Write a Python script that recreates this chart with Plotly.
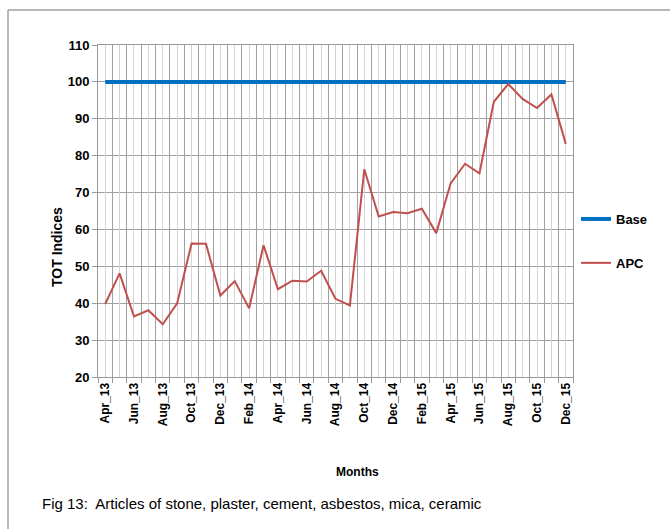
import plotly.graph_objects as go

months = ["Apr_13","May_13","Jun_13","Jul_13","Aug_13","Sep_13","Oct_13","Nov_13","Dec_13",
          "Jan_14","Feb_14","Mar_14","Apr_14","May_14","Jun_14","Jul_14","Aug_14","Sep_14",
          "Oct_14","Nov_14","Dec_14","Jan_15","Feb_15","Mar_15","Apr_15","May_15","Jun_15",
          "Jul_15","Aug_15","Sep_15","Oct_15","Nov_15","Dec_15"]
base = [100] * 33
apc = [39.8, 48.1, 36.4, 38.1, 34.3, 40.0, 56.2, 56.1, 42.1,
       46.0, 38.6, 55.7, 43.8, 46.1, 45.9, 48.8, 41.2, 39.4,
       76.3, 63.5, 64.7, 64.4, 65.6, 59.0, 72.5, 77.8, 75.2,
       94.6, 99.4, 95.4, 92.9, 96.6, 83.2]
tick_text = [m if i % 2 == 0 else "" for i, m in enumerate(months)]
y_ticks = list(range(20, 111, 10))

L, R, T, B = 98, 97, 45, 152
W, H = 670, 529
pw, ph = W - L - R, H - T - B

def px(x):
    return (x - L) / pw

def py(y):
    return (H - B - y) / ph

fig = go.Figure()
# hidden trace on overlay axis to draw centre gridlines
fig.add_trace(go.Scatter(x=months, y=base, xaxis="x2", mode="lines",
                         line=dict(width=0), showlegend=False, hoverinfo="skip"))
fig.add_trace(go.Scatter(x=months, y=base, name="Base", mode="lines",
                         line=dict(color="#0070C0", width=4), legendgroup="a"))
fig.add_trace(go.Scatter(x=months, y=apc, name="APC", mode="lines",
                         line=dict(color="#C0504D", width=2), legendgroup="b"))

font_b = "Liberation Sans"
fig.update_layout(
    width=W, height=H,
    margin=dict(l=L, r=R, t=T, b=B),
    plot_bgcolor="white", paper_bgcolor="white",
    xaxis=dict(type="category", categoryorder="array", categoryarray=months,
               tickmode="array", tickvals=months, ticktext=tick_text,
               tickson="boundaries", ticks="outside", ticklen=5, tickcolor="#9A9A9A",
               tickangle=-90, showgrid=True, gridcolor="#A0A0A0", gridwidth=1,
               showline=True, linecolor="#9A9A9A", mirror=True,
               tickfont=dict(family=font_b, size=12, color="black", weight="bold"),
               range=[-0.5, 32.5]),
    xaxis2=dict(type="category", categoryorder="array", categoryarray=months,
                overlaying="x", matches="x", showgrid=True, gridcolor="#D4D4D4",
                showticklabels=False, ticks="", tickmode="array", tickvals=months,
                layer="below traces", showline=False, zeroline=False),
    yaxis=dict(range=[20, 110], tickmode="array", tickvals=y_ticks,
               ticks="outside", ticklen=5, tickcolor="#9A9A9A",
               showgrid=True, gridcolor="#A0A0A0", gridwidth=1,
               showline=True, linecolor="#9A9A9A", mirror=True, zeroline=False,
               tickfont=dict(family=font_b, size=13, color="black", weight="bold")),
    legend=dict(x=px(576), y=py(241), xanchor="left", yanchor="middle",
                traceorder="grouped", tracegroupgap=24,
                font=dict(family=font_b, size=13, color="black", weight="bold"),
                bgcolor="rgba(0,0,0,0)"),
    showlegend=True,
)

fig.add_annotation(text="TOT Indices", x=px(57), y=py(247), xref="paper", yref="paper",
                   textangle=-90, showarrow=False, xanchor="center", yanchor="middle",
                   font=dict(family=font_b, size=14, color="black", weight="bold"))
fig.add_annotation(text="Months", x=px(357), y=py(472), xref="paper", yref="paper",
                   showarrow=False, xanchor="center", yanchor="middle",
                   font=dict(family=font_b, size=12, color="black", weight="bold"))
fig.add_annotation(text="Fig 13:  Articles of stone, plaster, cement, asbestos, mica, ceramic",
                   x=px(40), y=py(504), xref="paper", yref="paper",
                   showarrow=False, xanchor="left", yanchor="middle",
                   font=dict(family="Liberation Sans", size=15, color="black"))

# outer frame (top and left edges)
fig.add_shape(type="line", xref="paper", yref="paper", x0=px(8), x1=px(672),
              y0=py(10), y1=py(10), line=dict(color="#A0A0A0", width=1.5))
fig.add_shape(type="line", xref="paper", yref="paper", x0=px(8), x1=px(8),
              y0=py(10), y1=py(535), line=dict(color="#A0A0A0", width=1.5))

fig.write_html("out.html")
